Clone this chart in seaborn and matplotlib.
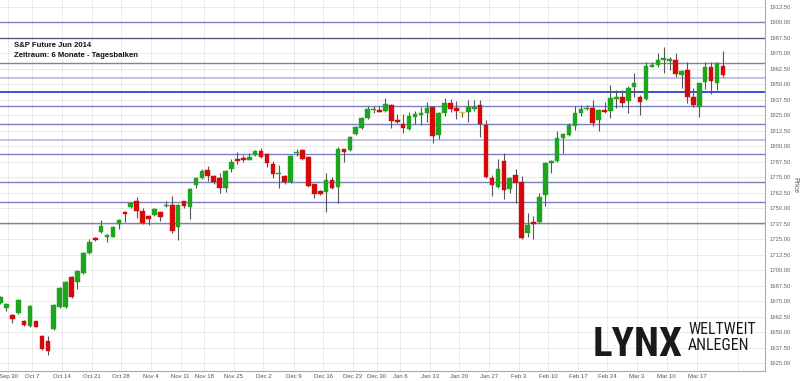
import numpy as np
import pandas as pd
import matplotlib
matplotlib.use("Agg")
import matplotlib.pyplot as plt
from matplotlib import font_manager
import seaborn as sns

# ---- data ----
opens = [1673.4, 1669.6, 1664.0, 1665.3, 1658.9, 1655.1, 1658.9, 1647.0, 1643.2, 1652.4,
         1670.7, 1670.7, 1694.4, 1690.6, 1698.1, 1713.7, 1726.1, 1730.9, 1727.1, 1727.1,
         1737.4, 1747.1, 1750.9, 1755.7, 1748.1, 1744.1, 1744.9, 1747.1, 1751.7, 1752.7,
         1734.7, 1755.7, 1751.3, 1768.6, 1774.2, 1780.9, 1776.3, 1774.2, 1766.2, 1781.7,
         1789.8, 1790.9, 1789.3, 1793.0, 1796.3, 1793.6, 1786.0, 1777.7, 1776.3, 1771.5,
         1794.7, 1797.3, 1791.4, 1769.4, 1764.0, 1763.4, 1772.6, 1767.2, 1797.6, 1796.8,
         1810.2, 1814.6, 1822.6, 1829.1, 1829.6, 1828.5, 1833.4, 1821.5, 1818.0, 1814.3,
         1823.9, 1825.1, 1827.2, 1832.0, 1809.4, 1826.7, 1834.7, 1830.9, 1827.2, 1827.7,
         1830.4, 1833.1, 1817.5, 1774.2, 1767.5, 1788.4, 1765.4, 1776.9, 1771.3, 1729.9,
         1739.0, 1738.8, 1761.0, 1786.8, 1787.9, 1806.7, 1809.4, 1816.8, 1826.7, 1829.9,
         1830.7, 1821.0, 1829.1, 1828.8, 1838.2, 1840.1, 1836.8, 1847.7, 1840.1, 1838.0,
         1864.3, 1865.6, 1869.7, 1868.9, 1869.7, 1857.8, 1861.6, 1840.1, 1832.0, 1852.2,
         1864.3, 1851.4, 1864.8]
highs = [1679.5, 1673.5, 1664.8, 1677.0, 1659.9, 1672.0, 1659.5, 1647.8, 1647.0, 1672.8,
         1686.5, 1691.4, 1695.2, 1700.5, 1715.0, 1725.0, 1726.5, 1740.6, 1729.0, 1736.0,
         1741.7, 1747.6, 1755.2, 1758.9, 1750.0, 1744.6, 1750.2, 1747.8, 1756.2, 1760.2,
         1753.5, 1756.3, 1766.3, 1775.0, 1781.7, 1784.4, 1777.0, 1778.3, 1780.8, 1789.8,
         1795.7, 1793.0, 1794.7, 1797.0, 1798.9, 1794.3, 1788.2, 1785.0, 1777.0, 1792.7,
         1797.6, 1798.0, 1792.0, 1770.0, 1764.6, 1778.3, 1775.5, 1799.5, 1798.2, 1808.3,
         1816.6, 1823.3, 1832.3, 1832.8, 1832.3, 1839.3, 1834.0, 1825.9, 1826.1, 1828.0,
         1828.8, 1832.0, 1835.8, 1832.7, 1827.4, 1838.8, 1838.0, 1836.4, 1828.0, 1837.4,
         1837.4, 1837.4, 1821.3, 1776.9, 1789.6, 1794.4, 1775.0, 1781.5, 1776.1, 1746.5,
         1743.8, 1762.6, 1787.0, 1789.0, 1812.6, 1811.0, 1819.1, 1832.6, 1833.4, 1833.1,
         1837.8, 1830.5, 1835.5, 1849.5, 1845.5, 1845.5, 1848.7, 1858.9, 1841.4, 1867.8,
         1868.3, 1875.1, 1880.4, 1872.3, 1875.1, 1861.7, 1868.3, 1846.8, 1851.5, 1867.8,
         1867.8, 1867.8, 1877.2]
lows = [1672.5, 1667.4, 1657.3, 1664.5, 1655.0, 1654.3, 1654.0, 1636.0, 1631.5, 1651.6,
        1670.0, 1670.0, 1678.0, 1684.7, 1697.4, 1713.0, 1724.0, 1730.2, 1723.1, 1726.5,
        1733.6, 1738.8, 1750.3, 1742.5, 1737.2, 1736.6, 1744.2, 1739.6, 1751.0, 1729.9,
        1724.5, 1750.0, 1741.4, 1766.2, 1773.5, 1772.3, 1769.4, 1762.1, 1762.9, 1779.1,
        1785.5, 1787.6, 1788.7, 1792.4, 1790.8, 1783.6, 1774.2, 1766.2, 1769.4, 1770.8,
        1792.5, 1789.0, 1767.6, 1758.6, 1760.5, 1746.8, 1765.5, 1754.1, 1787.6, 1796.0,
        1809.5, 1813.9, 1821.9, 1826.9, 1827.4, 1827.8, 1815.1, 1818.7, 1810.5, 1813.6,
        1818.0, 1817.5, 1819.7, 1802.9, 1805.7, 1824.5, 1827.7, 1822.3, 1823.9, 1819.7,
        1828.8, 1807.8, 1774.3, 1760.0, 1766.8, 1757.3, 1762.1, 1754.6, 1725.6, 1727.1,
        1725.0, 1738.0, 1751.9, 1778.8, 1787.2, 1794.9, 1808.7, 1813.5, 1824.5, 1829.3,
        1816.8, 1812.0, 1827.0, 1822.6, 1830.9, 1831.8, 1826.7, 1839.6, 1825.3, 1837.2,
        1863.7, 1864.3, 1858.9, 1861.6, 1855.7, 1846.8, 1834.7, 1832.0, 1823.9, 1846.0,
        1842.0, 1845.5, 1855.7]
closes = [1678.7, 1672.8, 1661.0, 1676.1, 1655.9, 1671.3, 1654.5, 1636.8, 1635.2, 1672.0,
          1685.8, 1690.6, 1678.7, 1699.7, 1714.2, 1723.1, 1724.5, 1735.8, 1728.5, 1735.2,
          1740.6, 1745.7, 1754.6, 1747.6, 1737.9, 1741.7, 1749.5, 1743.3, 1752.7, 1731.9,
          1752.7, 1751.9, 1765.6, 1774.2, 1780.1, 1775.9, 1771.5, 1766.2, 1780.1, 1787.6,
          1788.2, 1788.8, 1791.4, 1796.3, 1791.4, 1786.3, 1778.0, 1778.5, 1771.0, 1792.0,
          1795.7, 1789.8, 1768.3, 1761.8, 1761.3, 1772.6, 1766.2, 1797.6, 1795.7, 1807.6,
          1815.9, 1822.6, 1830.1, 1830.1, 1828.0, 1834.4, 1820.5, 1819.4, 1814.6, 1824.5,
          1826.1, 1826.7, 1830.9, 1808.6, 1826.7, 1835.2, 1830.4, 1828.3, 1827.2, 1832.0,
          1832.0, 1817.8, 1775.0, 1769.1, 1781.5, 1764.8, 1774.2, 1770.2, 1726.3, 1736.6,
          1737.1, 1759.4, 1786.3, 1787.9, 1806.5, 1810.0, 1817.5, 1827.0, 1829.9, 1830.9,
          1818.6, 1829.3, 1827.6, 1838.8, 1839.8, 1835.2, 1846.8, 1850.9, 1836.0, 1864.8,
          1865.6, 1869.7, 1871.0, 1870.2, 1858.4, 1861.0, 1840.1, 1833.4, 1850.9, 1863.8,
          1853.0, 1867.0, 1857.3]

level_lines = [1900.0, 1887.5, 1867.0, 1855.4, 1843.6, 1832.3, 1817.8, 1805.1,
               1793.6, 1771.5, 1754.9, 1737.9]

week_labels = ["Sep 30", "Oct 7", "Oct 14", "Oct 21", "Oct 28", "Nov 4", "Nov 11",
               "Nov 18", "Nov 25", "Dec 2", "Dec 9", "Dec 16", "Dec 23", "Dec 30",
               "Jan 6", "Jan 13", "Jan 20", "Jan 27", "Feb 3", "Feb 10", "Feb 17",
               "Feb 24", "Mar 3", "Mar 10", "Mar 17", ""]
week_pos = [1.3, 5.4, 10.4, 15.4, 20.4, 25.4, 30.4, 34.4, 39.4, 44.4, 49.5, 54.5,
            59.5, 63.5, 67.5, 72.5, 77.5, 82.5, 87.5, 92.5, 97.5, 102.5, 107.5,
            112.5, 117.6, 124.6]

title_lines = ["S&P Future Jun 2014", "Zeitraum: 6 Monate - Tagesbalken"]
logo_main = "LYNX"
logo_sub = ["WELTWEIT", "ANLEGEN"]

# ---- styling ----
line_colors = ["#7b7fc0", "#55588f", "#7b7fc0", "#b4b8e0", "#3f4fd0", "#7b7fc0",
               "#7b7fc0", "#b4b8e0", "#7b7fc0", "#7b7fc0", "#7b7fc0", "#7b7fc0"]
line_widths = [1.0, 1.0, 1.0, 1.2, 1.4, 1.0, 1.0, 1.2, 1.0, 1.0, 1.0, 1.0]

sns.set_theme(style="white")
plt.rcParams['font.family'] = ['Liberation Sans', 'DejaVu Sans']

# pick a condensed family for the logo if one is installed
names = {f.name for f in font_manager.fontManager.ttflist}
cond = [n for n in ["Roboto Condensed", "Open Sans Condensed", "Liberation Sans Narrow",
                    "DejaVu Sans Condensed", "Noto Sans Condensed"] if n in names]
stretchy = [f for f in font_manager.fontManager.ttflist
            if f.stretch in ("condensed", "semi-condensed", "extra-condensed", 75, 62, 87)]
if cond:
    logo_family = cond[0]
    logo_stretch = "normal"
    main_size, sub_size = 29.5, 11.4
elif stretchy:
    logo_family = stretchy[0].name
    logo_stretch = stretchy[0].stretch
    main_size, sub_size = 29.5, 11.4
else:
    logo_family = "DejaVu Sans"
    logo_stretch = "normal"
    main_size, sub_size = 22, 8.2

df = pd.DataFrame({"open": opens, "high": highs, "low": lows, "close": closes})
df["idx"] = np.arange(len(df))
df["up"] = df["close"] > df["open"]
df["flat"] = df["close"] == df["open"]
df["color"] = np.where(df["flat"], "#e0c020", np.where(df["up"], "#1ea51e", "#d40a0a"))
df["bottom"] = df[["open", "close"]].min(axis=1)
df["height"] = (df["close"] - df["open"]).abs().clip(lower=0.9)

fig = plt.figure(figsize=(8.0, 3.81), dpi=100)
ax = fig.add_axes([0.0, 10 / 381, 765 / 800, 371 / 381])

ax.set_xlim(-0.08, 129.1)
ax.set_ylim(1618.8, 1918.07)

ax.set_axisbelow(True)
yt = np.arange(1625, 1913, 12.5)
ax.set_yticks(yt)
ax.set_yticklabels([f"{v:.2f}" for v in yt])
ax.set_xticks(week_pos)
ax.set_xticklabels(week_labels)
ax.grid(True, color="#d0d0d0", linestyle=(0, (1.2, 1.2)), linewidth=0.6)

for lv, c, lw in zip(level_lines, line_colors, line_widths):
    ax.axhline(lv, color=c, linewidth=lw, zorder=1.5)

sns.despine(ax=ax, left=True, top=True, right=False, bottom=False)

ax.vlines(df["idx"], df["low"], df["high"], color="#555555", linewidth=0.8, zorder=2)
ax.bar(df["idx"], df["height"], bottom=df["bottom"], width=0.78,
       color=df["color"], edgecolor=df["color"], linewidth=0.3, zorder=3)

ax.yaxis.tick_right()
ax.yaxis.set_label_position("right")
ax.set_ylabel("Price", rotation=270, fontsize=5, color="#555555", labelpad=6)
ax.tick_params(axis="y", length=0, pad=3, labelsize=4.2, labelcolor="#666666")
ax.tick_params(axis="x", length=0, pad=2, labelsize=4.3, labelcolor="#555555")
for s in ["right", "bottom"]:
    ax.spines[s].set_color("#aaaaaa")
    ax.spines[s].set_linewidth(0.8)

fig.text(14 / 800, 1 - 47 / 381, title_lines[0], fontsize=5.6, fontweight="bold",
         color="#111111", ha="left", va="baseline")
fig.text(14 / 800, 1 - 57 / 381, title_lines[1], fontsize=5.6, fontweight="bold",
         color="#111111", ha="left", va="baseline")

fig.text(593 / 800, 1 - 356 / 381, logo_main, fontsize=main_size,
         family=logo_family, fontstretch=logo_stretch, fontweight="bold",
         color="#1a1a1a", ha="left", va="baseline")
fig.text(688 / 800, 1 - 334 / 381, logo_sub[0], fontsize=sub_size,
         family=logo_family, fontstretch=logo_stretch,
         color="#1a1a1a", ha="left", va="baseline")
fig.text(688 / 800, 1 - 350 / 381, logo_sub[1], fontsize=sub_size,
         family=logo_family, fontstretch=logo_stretch,
         color="#1a1a1a", ha="left", va="baseline")

fig.savefig("out.png", dpi=100, facecolor="white")
